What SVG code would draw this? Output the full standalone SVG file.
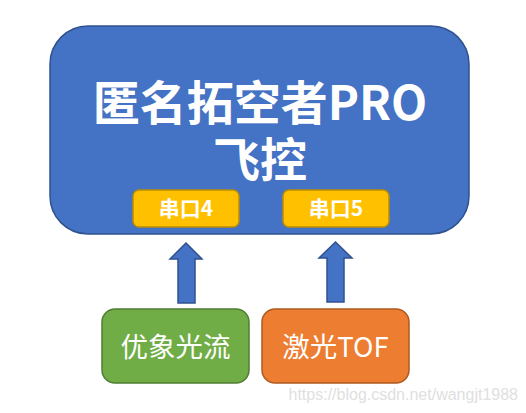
<svg xmlns="http://www.w3.org/2000/svg" width="526" height="413" viewBox="0 0 526 413">
<style>
.cjk{font-family:"Noto Sans CJK SC","Liberation Sans",sans-serif;fill:#fff;text-anchor:middle}
.title{font-size:47px;font-weight:bold}
.port{font-size:21px;font-weight:bold}
.lbl{font-size:27.5px}
.arrow{fill:#4472C4;stroke:#2F528F;stroke-width:1.5}
</style>
<rect width="526" height="413" fill="#fff"/>
<g id="main">
<rect x="50" y="26" width="419" height="208" rx="38" fill="#4472C4" stroke="#2F528F" stroke-width="1.5"/>
<text class="cjk title" x="260" y="120">匿名拓空者PRO</text>
<text class="cjk title" x="260" y="177">飞控</text>
</g>
<g id="port4">
<rect x="133" y="190" width="106" height="37" rx="6" fill="#FFC000" stroke="#BC8C00" stroke-width="1.5"/>
<text class="cjk port" x="186" y="216">串口4</text>
</g>
<g id="port5">
<rect x="283" y="190" width="106" height="37" rx="6" fill="#FFC000" stroke="#BC8C00" stroke-width="1.5"/>
<text class="cjk port" x="336" y="216">串口5</text>
</g>
<g id="connectors">
<polygon class="arrow" points="186,243 202,259 195,259 195,303 178,303 178,259 170,259"/>
<polygon class="arrow" points="335.5,242 352,258 344,258 344,302 327,302 327,258 319,258"/>
</g>
<g id="optflow">
<rect x="102" y="309" width="147" height="74" rx="13" fill="#70AD47" stroke="#507E32" stroke-width="1.5"/>
<text class="cjk lbl" x="175.5" y="357">优象光流</text>
</g>
<g id="tof">
<rect x="262" y="309" width="147" height="74" rx="13" fill="#ED7D31" stroke="#AE5A21" stroke-width="1.5"/>
<text class="cjk lbl" x="335.5" y="357">激光TOF</text>
</g>
<text x="518" y="400" font-family="Liberation Sans,sans-serif" font-size="16" fill="#e0e0e0" text-anchor="end">https://blog.csdn.net/wangjt1988</text>
</svg>
